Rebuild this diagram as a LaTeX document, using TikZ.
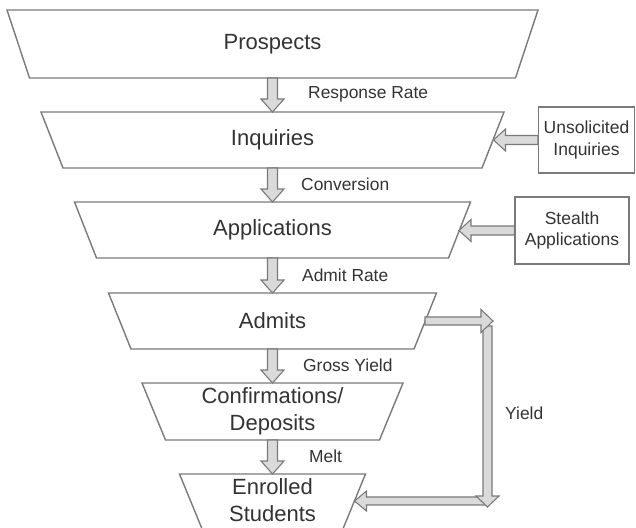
\documentclass[tikz,border=0pt]{standalone}
\usepackage{fontspec}
\setmainfont{Liberation Sans}
\usetikzlibrary{calc}
\definecolor{edge}{HTML}{7A7A7A}
\definecolor{fillg}{HTML}{DADADA}
\definecolor{ink}{HTML}{333333}
% vertical block arrow: #1 from, #2 to (tip), #3 head length (canvas, signed), #4 shaft half width, #5 head half width
\newcommand{\blockv}[5]{%
  \draw[barrow] let \p1=(#1), \p2=(#2) in
    (\x1+#4,\y1) -- (\x1+#4,\y2+#3) -- (\x1+#5,\y2+#3) -- (\x1,\y2)
    -- (\x1-#5,\y2+#3) -- (\x1-#4,\y2+#3) -- (\x1-#4,\y1) -- cycle;}
% horizontal block arrow: #1 from, #2 to (tip), #3 head length (signed), #4 shaft half, #5 head half
\newcommand{\blockh}[5]{%
  \draw[barrow] let \p1=(#1), \p2=(#2) in
    (\x1,\y1+#4) -- (\x2+#3,\y1+#4) -- (\x2+#3,\y1+#5) -- (\x2,\y1)
    -- (\x2+#3,\y1-#5) -- (\x2+#3,\y1-#4) -- (\x1,\y1-#4) -- cycle;}
\begin{document}
\begin{tikzpicture}[x=1pt,y=-1pt,
  stage/.style={inner sep=0pt, outer sep=0pt, text=ink, font=\fontsize{22}{27}\selectfont, align=center},
  trap/.style={draw=edge, line width=1.4pt, line join=miter},
  barrow/.style={draw=edge, fill=fillg, line width=1.1pt, line join=miter},
  rate/.style={text=ink, font=\fontsize{17.4}{21}\selectfont, anchor=west, inner sep=0pt},
  sidebox/.style={draw=edge, line width=1.4pt, text=ink, inner sep=0pt, align=center}]
\clip (0,0) rectangle (636,527);
\fill[white] (0,0) rectangle (636,527);

% funnel stages
\node[stage, minimum width=531pt, minimum height=68pt] (pros) at (272.5,44) {Prospects};
\draw[trap] (pros.north west) -- (pros.north east) -- ($(pros.south east)+(-22.5,0)$) -- ($(pros.south west)+(22.5,0)$) -- cycle;

\node[stage, minimum width=463pt, minimum height=56pt] (inq) at (272.5,140) {Inquiries};
\draw[trap] (inq.north west) -- (inq.north east) -- ($(inq.south east)+(-22,0)$) -- ($(inq.south west)+(22,0)$) -- cycle;

\node[stage, minimum width=396pt, minimum height=56pt] (app) at (272.5,230) {Applications};
\draw[trap] (app.north west) -- (app.north east) -- ($(app.south east)+(-22,0)$) -- ($(app.south west)+(22,0)$) -- cycle;

\node[stage, minimum width=328pt, minimum height=56pt] (adm) at (272.5,321) {Admits};
\draw[trap] (adm.north west) -- (adm.north east) -- ($(adm.south east)+(-22.5,0)$) -- ($(adm.south west)+(22.5,0)$) -- cycle;

\node[stage, minimum width=261pt, minimum height=57pt] (conf) at (272.5,411.5) {Confirmations/\\Deposits};
\draw[trap] (conf.north west) -- (conf.north east) -- ($(conf.south east)+(-23.5,0)$) -- ($(conf.south west)+(23.5,0)$) -- cycle;

\node[stage, minimum width=186pt, minimum height=56pt] (enr) at (272.5,502) {};
\draw[trap] (enr.north west) -- (enr.north east) -- ($(enr.south east)+(-23,0)$) -- ($(enr.south west)+(23,0)$) -- cycle;
\node[stage] (enrtext) at (272.5,500) {Enrolled\\Students};

% side boxes
\node[sidebox, minimum width=96pt, minimum height=66pt, font=\fontsize{17.5}{22}\selectfont] (unsol) at (586.5,140) {Unsolicited\\Inquiries};
\node[sidebox, minimum width=114pt, minimum height=67pt, font=\fontsize{17.5}{21}\selectfont] (stealth) at (572,230.5) {Stealth\\Applications};

% funnel arrows
\blockv{pros.south}{inq.north}{13pt}{5pt}{11.5pt}
\blockv{inq.south}{app.north}{13pt}{5pt}{11.5pt}
\blockv{app.south}{adm.north}{13pt}{5pt}{11.5pt}
\blockv{adm.south}{conf.north}{13pt}{5pt}{11.5pt}
\blockv{conf.south}{enr.north}{13pt}{5pt}{11.5pt}

% side arrows
\coordinate (inqR) at (493.5,140);
\coordinate (appR) at (459,230.5);
\blockh{unsol.west}{inqR}{12pt}{4.5pt}{11pt}
\blockh{stealth.west}{appR}{12pt}{4.5pt}{11pt}

% yield path
\coordinate (admR) at (425,321);
\coordinate (yTop) at (493,321);
\coordinate (yV) at (487.5,326);
\coordinate (yVend) at (487.5,507);
\coordinate (yB) at (487,501);
\coordinate (enrR) at (354.5,501);
\blockh{yB}{enrR}{12pt}{4pt}{10pt}
\blockv{yV}{yVend}{11pt}{4.5pt}{11.5pt}
\blockh{admR}{yTop}{-12pt}{4pt}{11.5pt}

% rate labels
\node[rate] (lresp) at (308,94) {Response Rate};
\node[rate] (lconv) at (301,184) {Conversion};
\node[rate] (ladm) at (302,275) {Admit Rate};
\node[rate] (lgross) at (303,365) {Gross Yield};
\node[rate] (lmelt) at (309,456) {Melt};
\node[rate] (lyield) at (505,413) {Yield};
\end{tikzpicture}
\end{document}
